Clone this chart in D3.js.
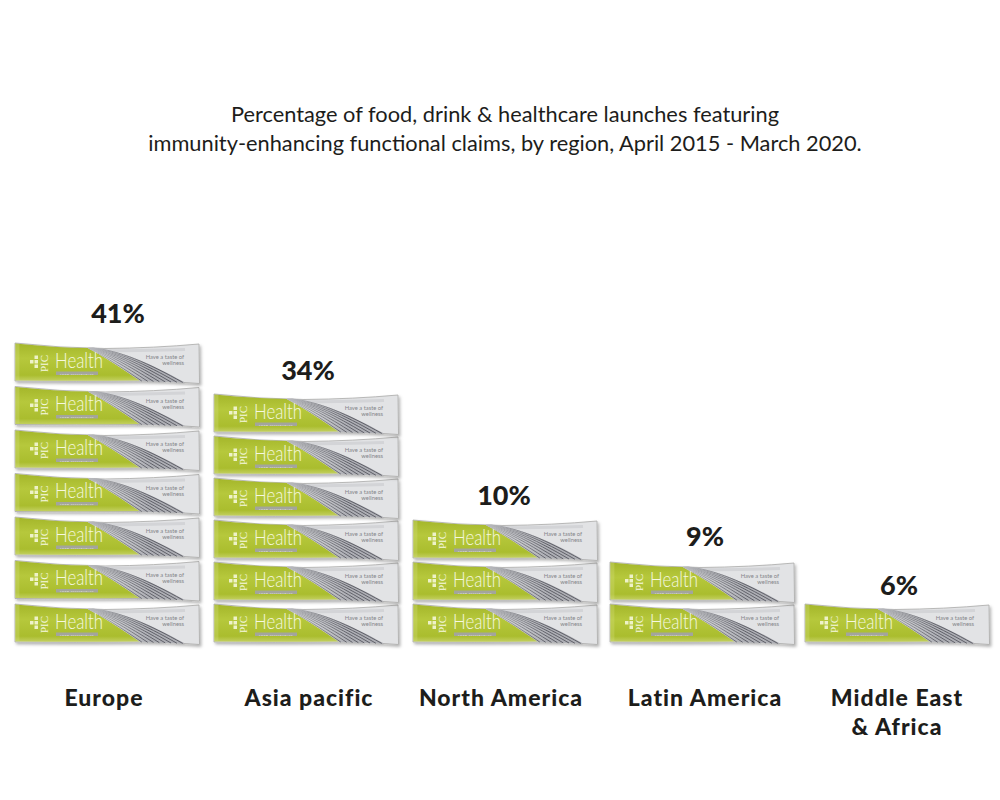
<!DOCTYPE html>
<html>
<head>
<meta charset="utf-8">
<script src="https://cdn.jsdelivr.net/npm/d3@7"></script>
<style>
body { margin: 0; background: #fff; }
text { font-family: Lato, "Open Sans", sans-serif; fill: #1d1d1b; }
</style>
</head>
<body>
<div id="chart-area"></div>
<script>
//============================DATA============================
var regions = ["Europe", "Asia pacific", "North America", "Latin America", "Middle East & Africa"];
var percents = [41, 34, 10, 9, 6];
var sachets = [7, 6, 3, 2, 1];
var titleLines = [
    "Percentage of food, drink & healthcare launches featuring",
    "immunity-enhancing functional claims, by region, April 2015 - March 2020."
];
var regionLines = [["Europe"], ["Asia pacific"], ["North America"], ["Latin America"], ["Middle East", "& Africa"]];

//============================GLOBALS=========================
var width = 1000, height = 800;

var svg = d3.select("#chart-area").append("svg")
    .attr("width", width)
    .attr("height", height);

//left edge of each stack
var x = d3.scaleOrdinal().domain(regions).range([15, 214, 413, 610, 805]);
//centres of the labels do not sit at the middle of the stacks
var pctX = d3.scaleOrdinal().domain(regions).range([118, 308, 504, 705, 899]);
var nameX = d3.scaleOrdinal().domain(regions).range([104, 309, 501, 705, 897]);
//gap between top sachet and its percent label
var pctGap = d3.scaleOrdinal().domain(regions).range([20, 14, 15, 16, 9]);
//europe is stacked a bit looser than the others
var pitch = d3.scaleOrdinal().domain(regions).range([43.5, 42, 42, 42, 42]);
var bottom = 604;

var defs = svg.append("defs");

var shadow = defs.append("filter").attr("id", "pack-shadow")
    .attr("x", "-5%").attr("y", "-10%").attr("width", "110%").attr("height", "130%");
shadow.append("feDropShadow")
    .attr("dx", 1.5).attr("dy", 2).attr("stdDeviation", 1.5)
    .attr("flood-color", "#000").attr("flood-opacity", 0.3);

var green = defs.append("linearGradient").attr("id", "pack-green")
    .attr("x1", 0).attr("y1", 0).attr("x2", 0).attr("y2", 1);
green.append("stop").attr("offset", "0%").attr("stop-color", "#a4b62a");
green.append("stop").attr("offset", "40%").attr("stop-color", "#b6c83c");
green.append("stop").attr("offset", "85%").attr("stop-color", "#aabd2e");
green.append("stop").attr("offset", "100%").attr("stop-color", "#c3d060");

//swoosh gets darker towards the bottom of the sachet
function swooshGradient(id, from, to) {
    var grad = defs.append("linearGradient").attr("id", id)
        .attr("gradientUnits", "userSpaceOnUse")
        .attr("x1", 78).attr("y1", 0).attr("x2", 135).attr("y2", 0);
    grad.append("stop").attr("offset", "0%").attr("stop-color", from);
    grad.append("stop").attr("offset", "100%").attr("stop-color", to);
}
swooshGradient("swoosh-base", "#e0e1e3", "#aeafb5");
swooshGradient("swoosh-stripe", "#b5b6ba", "#5f6068");

//lower and upper edge of the silver swoosh, [x, y] control points
var swooshLow = [[73, 5], [88, 13], [105, 24], [125, 38]];
var swooshHigh = [[78, 5], [105, 7], [135, 20], [170, 39.5]];

function swooshLine(t) {
    var p = swooshLow.map(function(a, i) {
        return [a[0] + (swooshHigh[i][0] - a[0]) * t, a[1] + (swooshHigh[i][1] - a[1]) * t];
    });
    return "M" + p[0] + " C" + p[1] + " " + p[2] + " " + p[3];
}

//one sachet, drawn in its own local coordinates
function drawPack(g) {
    g.append("path")
        .attr("d", "M0,0 Q45,5 90,5.5 Q140,5 184,1 L184.5,40.5 Q150,38 125,38 Q60,38.5 0,38 Z")
        .attr("fill", "#e2e3e5").attr("stroke", "#a9aaa8").attr("stroke-width", 0.8)
        .attr("filter", "url(#pack-shadow)");
    //pale band along the top of the grey part
    g.append("path")
        .attr("d", "M85,7.5 Q130,8 170,6.5").attr("fill", "none")
        .attr("stroke", "#d3d4d7").attr("stroke-width", 3);
    //green part of the wrapper
    g.append("path")
        .attr("d", "M0.4,0.4 Q40,4.5 73,5 C88,13 105,24 125,37.6 Q60,38 0.4,37.6 Z")
        .attr("fill", "url(#pack-green)");
    g.append("rect").attr("x", 0.4).attr("y", 1).attr("width", 4).attr("height", 36)
        .attr("fill", "#d2dc78").attr("opacity", 0.35);
    //silver swoosh
    g.append("path")
        .attr("d", swooshLine(0) + " L170,39.5 C135,20 105,7 78,5 Z")
        .attr("fill", "url(#swoosh-base)");
    g.selectAll("path.swoosh").data([0.04, 0.17, 0.3, 0.43, 0.56, 0.69, 0.82, 0.95]).enter().append("path")
        .attr("class", "swoosh")
        .attr("d", swooshLine)
        .attr("fill", "none")
        .attr("stroke", "url(#swoosh-stripe)")
        .attr("stroke-width", 1);
    //logo: small cross of squares
    var squares = [[19.5, 12.5], [15, 17], [19.5, 17], [19.5, 21.5]];
    g.selectAll("rect.logo").data(squares).enter().append("rect")
        .attr("class", "logo")
        .attr("x", function(d) { return d[0]; })
        .attr("y", function(d) { return d[1]; })
        .attr("width", 3.5).attr("height", 3.5).attr("fill", "#eef2c8");
    g.append("text")
        .attr("transform", "translate(33,29) rotate(-90)")
        .attr("textLength", 17).attr("lengthAdjust", "spacingAndGlyphs")
        .attr("font-size", 11)
        .style("fill", "#f6f8e0").style("font-family", "'Liberation Serif'")
        .text("PIC");
    g.append("text").attr("x", 40).attr("y", 24.5)
        .attr("textLength", 48).attr("lengthAdjust", "spacingAndGlyphs")
        .attr("font-size", 21).attr("font-weight", 300)
        .style("fill", "#f6f8e0").text("Health");
    g.append("rect").attr("x", 41).attr("y", 28.5).attr("width", 42).attr("height", 3.5)
        .attr("fill", "#a3a59c");
    g.append("text").attr("x", 62).attr("y", 31.6).attr("text-anchor", "middle")
        .attr("font-size", 2.4).style("fill", "#eef0e2").attr("letter-spacing", 0.6)
        .text("FOOD SUPPLEMENTS");
    g.append("text").attr("x", 169).attr("y", 16).attr("text-anchor", "end")
        .attr("font-size", 5.8).style("fill", "#85868a").text("Have a taste of");
    g.append("text").attr("x", 169).attr("y", 22).attr("text-anchor", "end")
        .attr("font-size", 5.8).style("fill", "#85868a").text("wellness");
}

//============================MARKS===========================
var packs = [];
regions.forEach(function(r, i) {
    d3.range(sachets[i]).forEach(function(k) {
        packs.push({ region: r, level: k });
    });
});

svg.selectAll("g.pack").data(packs).enter().append("g")
    .attr("class", "pack")
    .attr("transform", function(d) {
        return "translate(" + x(d.region) + "," + (bottom - d.level * pitch(d.region)) + ")";
    })
    .each(function() { drawPack(d3.select(this)); });

//============================TEXT============================
svg.selectAll("text.title").data(titleLines).enter().append("text")
    .attr("class", "title")
    .attr("x", 505)
    .attr("y", function(d, i) { return 122 + i * 29; })
    .attr("text-anchor", "middle")
    .attr("font-size", 21.8)
    .text(function(d) { return d; });

svg.selectAll("text.pct").data(regions).enter().append("text")
    .attr("class", "pct")
    .attr("x", function(d) { return pctX(d); })
    .attr("y", function(d, i) { return bottom - (sachets[i] - 1) * pitch(d) - pctGap(d); })
    .attr("text-anchor", "middle")
    .attr("font-size", 27)
    .attr("font-weight", 900)
    .text(function(d, i) { return percents[i] + "%"; });

var names = svg.selectAll("text.region").data(regions).enter().append("text")
    .attr("class", "region")
    .attr("text-anchor", "middle")
    .attr("font-size", 23)
    .attr("font-weight", 900)
    .attr("letter-spacing", 1);
names.selectAll("tspan").data(function(d, i) {
        return regionLines[i].map(function(t) { return { text: t, region: d }; });
    }).enter().append("tspan")
    .attr("x", function(d) { return nameX(d.region); })
    .attr("y", function(d, i) { return 706 + i * 29; })
    .text(function(d) { return d.text; });
</script>
</body>
</html>
